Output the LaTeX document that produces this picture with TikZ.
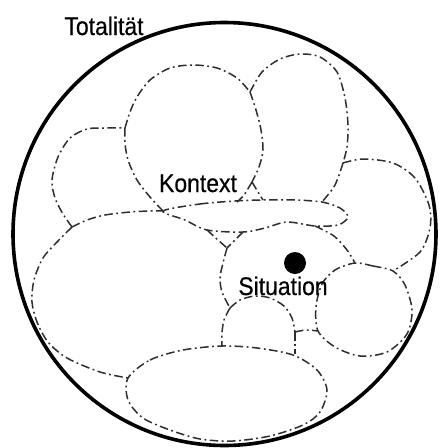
\documentclass[tikz,border=0pt]{standalone}
\usepackage{fontspec}
\newfontfamily\labfont{Liberation Sans}[FakeStretch=0.9,FakeBold=0.4]
\begin{document}
\begin{tikzpicture}[x=1pt,y=-1pt,
  cell/.style={draw=black!82, line width=1.5pt, dash pattern=on 8.5pt off 3.5pt on 1.8pt off 3.5pt, line cap=butt},
  lab/.style={inner sep=0pt, anchor=base, font=\labfont\fontsize{25.5}{30}\selectfont},
  outer/.style={draw=black, line width=3.6pt}]
\useasboundingbox (0,0) rectangle (440,448);
% outer circle
\coordinate (oc) at (224.5,234);
\draw[outer] (oc) circle[radius=211.5];
% junctions
\coordinate (jAC) at (125,128);
\coordinate (jAB) at (250,92);
\coordinate (jABl) at (252,182);
\coordinate (jK1) at (163,211);
\coordinate (jCD) at (72,227);
\coordinate (jEB) at (343,163);
\coordinate (jV) at (227,248);
\coordinate (jH) at (230,308);
\coordinate (jDG) at (222,346);
\coordinate (jG1) at (128,378);
\coordinate (jHc) at (295,332);
\coordinate (jF1) at (318,331);
\coordinate (jE1) at (355,263);
\coordinate (jE2) at (393,271);
% A top arc
\draw[cell] plot[smooth] coordinates {(jAC) (130,112) (137,97) (150,80) (170,68) (193,65) (217,68) (237,78) (jAB)};
% A/B shared
\draw[cell] plot[smooth] coordinates {(jAB) (256,110) (261,130) (263,150) (259,167) (jABl)};
\draw[cell] plot[smooth] coordinates {(jABl) (244,195) (237,202)};
\draw[cell] plot[smooth] coordinates {(jABl) (258,192) (263,200)};
% B top/right
\draw[cell] plot[smooth] coordinates {(jAB) (262,72) (280,59) (300,54) (320,57) (337,72) (345,98) (348,125) (347,147) (jEB)};
\draw[cell] plot[smooth] coordinates {(jEB) (335,185) (322,202)};
% E
\draw[cell] plot[smooth] coordinates {(jEB) (363,159) (393,163) (415,178) (429,205) (430,228) (420,252) (jE2)};
% F
\draw[cell] plot[smooth cycle] coordinates {(jE1) (373,266) (jE2) (405,285) (412,310) (407,334) (387,352) (360,356) (335,347) (jF1) (316,307) (322,284) (335,270)};
% K lens
\draw[cell] plot[smooth cycle] coordinates {(jK1) (200,204) (235,201) (263,200) (295,200) (322,202) (340,208) (348,217) (338,225) (315,226) (287,222) (265,228) (243,232) (207,230) (185,220)};
% S right line
\draw[cell] plot[smooth] coordinates {(315,226) (334,236) (347,250) (jE1)};
% V
\draw[cell] plot[smooth] coordinates {(207,230) (218,240) (jV)};
\draw[cell] plot[smooth] coordinates {(243,232) (235,240) (jV)};
% vertical D/S and D/H
\draw[cell] plot[smooth] coordinates {(jV) (223,263) (220,278) (222,292) (jH)};
\draw[cell] plot[smooth] coordinates {(jH) (224,320) (222,333) (jDG)};
% H
\draw[cell] plot[smooth] coordinates {(jH) (240,300) (255,296) (270,298) (284,306) (292,318) (jHc)};
\draw[cell] (jHc) -- (295,354);
\draw[cell] plot[smooth] coordinates {(jHc) (306,330) (jF1)};
% G
\draw[cell] plot[smooth cycle] coordinates {(jG1) (150,360) (183,350) (jDG) (257,348) (293,355) (317,370) (327,390) (320,412) (303,425) (270,436) (233,441) (200,439) (170,430) (143,418) (128,400)};
% D
\draw[cell] plot[smooth] coordinates {(jCD) (57,242) (43,258) (34,280) (32,302) (37,322) (48,342) (67,358) (100,372) (jG1)};
\draw[cell] plot[smooth] coordinates {(jCD) (87,220) (105,215) (130,212) (150,211) (jK1)};
% C
\draw[cell] plot[smooth] coordinates {(jCD) (63,214) (55,198) (52,180) (58,157) (70,138) (87,129) (105,128) (jAC)};
\draw[cell] plot[smooth] coordinates {(jAC) (125,143) (128,160) (137,180) (150,197) (jK1)};
% dot
\fill[black] (295,263) circle[radius=11];
% labels
\node[lab] (tot) at (104,35) {Totalität};
\node[lab] (kon) at (198,192) {Kontext};
\node[lab] (sit) at (283,295) {Situation};
\end{tikzpicture}
\end{document}
